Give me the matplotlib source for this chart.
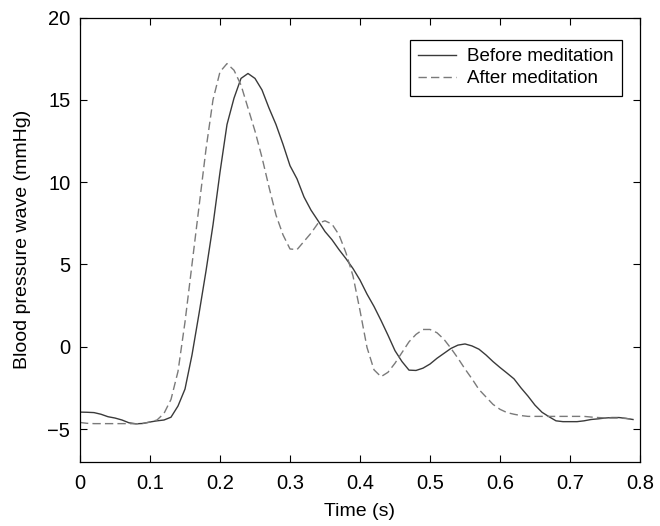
import numpy as np
import matplotlib
matplotlib.use("Agg")
import matplotlib.pyplot as plt

# time axis (s), sampled every 10 ms
time = np.arange(0, 0.795, 0.01)

before = [
    -3.97, -3.98, -4.0, -4.1, -4.25, -4.33, -4.45, -4.62, -4.68, -4.66,
    -4.57, -4.5, -4.45, -4.28, -3.6, -2.57, -0.5, 2.0, 4.6, 7.4,
    10.6, 13.5, 15.1, 16.3, 16.6, 16.3, 15.6, 14.5, 13.5, 12.3,
    11.0, 10.2, 9.1, 8.3, 7.66, 7.0, 6.5, 5.9, 5.35, 4.75,
    4.05, 3.2, 2.45, 1.6, 0.7, -0.24, -0.9, -1.42, -1.44, -1.3,
    -1.05, -0.7, -0.4, -0.1, 0.1, 0.17, 0.05, -0.15, -0.5, -0.9,
    -1.26, -1.6, -1.95, -2.5, -3.0, -3.55, -3.98, -4.25, -4.5, -4.55,
    -4.55, -4.55, -4.5, -4.42, -4.38, -4.33, -4.3, -4.3, -4.35, -4.42,
]

after = [
    -4.6, -4.65, -4.67, -4.67, -4.67, -4.67, -4.67, -4.67, -4.68, -4.65,
    -4.58, -4.45, -4.05, -3.2, -1.5, 1.5, 5.0, 8.5, 12.0, 15.0,
    16.7, 17.2, 16.8, 15.9, 14.5, 13.1, 11.5, 9.7, 8.0, 6.8,
    5.94, 5.9, 6.4, 6.9, 7.5, 7.65, 7.45, 6.8, 5.7, 4.3,
    2.2, -0.04, -1.4, -1.82, -1.55, -1.0, -0.35, 0.3, 0.75, 1.05,
    1.05, 0.85, 0.45, -0.1, -0.7, -1.35, -1.95, -2.6, -3.05, -3.5,
    -3.8, -4.0, -4.1, -4.18, -4.23, -4.23, -4.23, -4.23, -4.23, -4.23,
    -4.23, -4.23, -4.23, -4.27, -4.3, -4.32, -4.33, -4.33, -4.36, -4.4,
]

xticks = [0, 0.1, 0.2, 0.3, 0.4, 0.5, 0.6, 0.7, 0.8]
xticklabels = ["0", "0.1", "0.2", "0.3", "0.4", "0.5", "0.6", "0.7", "0.8"]
yticks = [-5, 0, 5, 10, 15, 20]

plt.rcParams['font.family'] = ['Liberation Sans', 'DejaVu Sans']
plt.rcParams['font.size'] = 14

fig = plt.figure(figsize=(6.6, 5.26), dpi=100)
ax = fig.add_axes([0.1212, 0.1217, 0.8485, 0.845])

ax.plot(time, before, color="#3a3a3a", lw=1.0, label="Before meditation")
ax.plot(time, after, color="#7a7a7a", lw=1.0, dashes=(6, 3), label="After meditation")

ax.set_xlim(0, 0.8)
ax.set_ylim(-7, 20)
ax.set_xticks(xticks)
ax.set_xticklabels(xticklabels)
ax.set_yticks(yticks)
ax.tick_params(direction="in", length=5, width=0.8, top=True, right=True, labelsize=14.5)
ax.tick_params(axis="x", pad=9)
ax.tick_params(axis="y", pad=7)
for s in ax.spines.values():
    s.set_linewidth(0.9)

ax.set_xlabel("Time (s)", labelpad=7)
ax.set_ylabel("Blood pressure wave (mmHg)", labelpad=12)

leg = ax.legend(loc="upper right", bbox_to_anchor=(0.968, 0.95), borderaxespad=0,
                fancybox=False, framealpha=1, edgecolor="black", handlelength=2.0,
                handletextpad=0.6, fontsize=13.5, borderpad=0.45, labelspacing=0.25)
leg.get_frame().set_linewidth(0.9)

fig.savefig("out.png", dpi=100)
